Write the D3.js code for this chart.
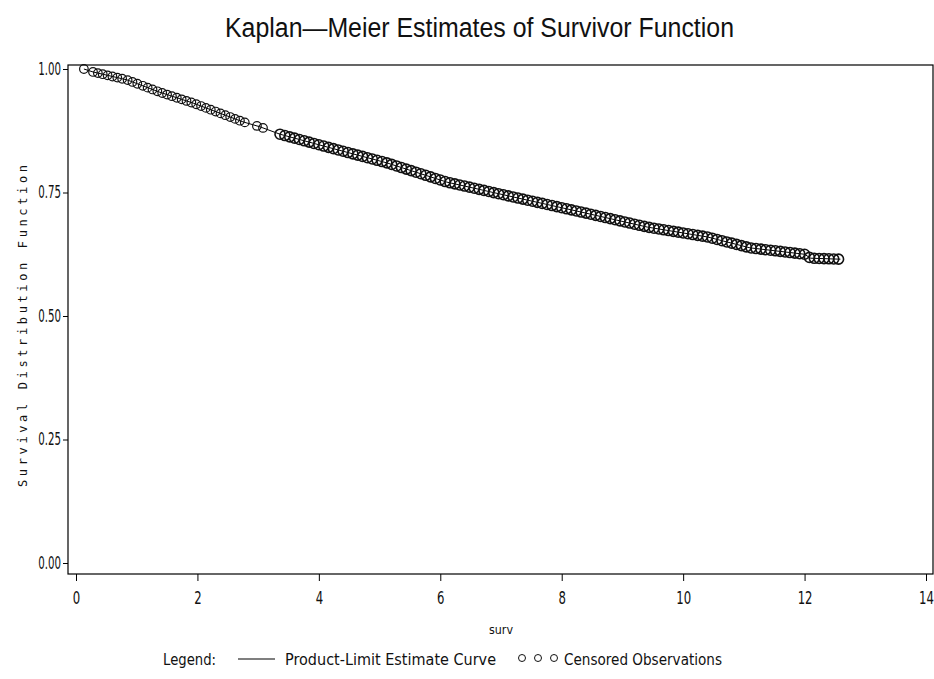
<!DOCTYPE html>
<html>
<head>
<meta charset="utf-8">
<script src="https://cdn.jsdelivr.net/npm/d3@7"></script>
<style>
    body { margin: 0; background: #fff; }
    svg text { fill: #111; }
    .sq { transform-box: fill-box; transform-origin: center; transform: scaleX(0.65); }
</style>
</head>
<body>
<svg id="chart" width="934" height="679"></svg>
<script>
const chartTitle = "Kaplan\u2014Meier Estimates of Survivor Function";
const yTitle = "Survival Distribution Function";
const xTitle = "surv";

// product-limit estimate
const kmTime = [0.13, 0.28, 0.84, 1.38, 1.93, 2.75, 3.03, 3.36, 4.14, 5.12, 6.11, 7.20, 8.30, 8.91, 9.41, 10.4, 11.1, 12.0, 12.1, 12.59];
const kmSurv = [1.000, 0.994, 0.978, 0.953, 0.931, 0.893, 0.883, 0.868, 0.842, 0.810, 0.771, 0.741, 0.711, 0.694, 0.680, 0.660, 0.638, 0.625, 0.617, 0.615];

// censored times (circles)
const censorTime = [
    0.13, 0.28, 0.36, 0.44, 0.52, 0.60, 0.68, 0.76, 0.85, 0.93, 1.01, 1.10, 1.18, 1.26, 1.34, 1.42, 1.50,
    1.58, 1.66, 1.74, 1.82, 1.90, 1.98, 2.06, 2.14, 2.22, 2.30, 2.38, 2.46, 2.54, 2.62, 2.70, 2.78,
    2.98, 3.08,
    3.36, 3.44, 3.52, 3.60, 3.68, 3.76, 3.84, 3.92, 4.00, 4.08, 4.16, 4.24, 4.32, 4.40, 4.48, 4.56,
    4.64, 4.72, 4.80, 4.88, 4.96, 5.04, 5.12, 5.20, 5.28, 5.36, 5.44, 5.52, 5.60, 5.68, 5.76, 5.84,
    5.92, 6.00, 6.08, 6.16, 6.24, 6.32, 6.40, 6.48, 6.56, 6.64, 6.72, 6.80, 6.88, 6.96, 7.04, 7.12,
    7.20, 7.28, 7.36, 7.44, 7.52, 7.60, 7.68, 7.76, 7.84, 7.92, 8.00, 8.08, 8.16, 8.24, 8.32, 8.40,
    8.48, 8.56, 8.64, 8.72, 8.80, 8.88, 8.96, 9.04, 9.12, 9.20, 9.28, 9.36, 9.44, 9.52, 9.60, 9.68,
    9.76, 9.84, 9.92, 10.00, 10.08, 10.16, 10.24, 10.32, 10.40, 10.48, 10.56, 10.64, 10.72, 10.80,
    10.88, 10.96, 11.04, 11.12, 11.20, 11.28, 11.36, 11.44, 11.52, 11.60, 11.68, 11.76, 11.84, 11.92,
    12.00, 12.08, 12.16, 12.24, 12.32, 12.40, 12.48, 12.56
];

const xTicks = [0, 2, 4, 6, 8, 10, 12, 14];
const yTicks = [0.00, 0.25, 0.50, 0.75, 1.00];

const svg = d3.select('#chart');

const frameLeft = 68, frameRight = 933, frameTop = 65, frameBottom = 574;

const xScale = d3.scaleLinear().domain([0, 14]).range([76, 926]);
const yScale = d3.scaleLinear().domain([0, 1]).range([563, 69]);
// survival value at a censored time, on the drawn curve
const survAt = d3.scaleLinear().domain(kmTime).range(kmSurv).clamp(true);

// title
svg.append('text')
    .attr('x', 479.5)
    .attr('y', 37)
    .attr('text-anchor', 'middle')
    .attr('textLength', 509)
    .attr('lengthAdjust', 'spacingAndGlyphs')
    .style('font-family', '"Liberation Sans", Arial, sans-serif')
    .style('font-size', '27px')
    .text(chartTitle);

// frame
svg.append('rect')
    .attr('x', frameLeft)
    .attr('y', frameTop)
    .attr('width', frameRight - frameLeft)
    .attr('height', frameBottom - frameTop)
    .attr('fill', 'none')
    .attr('stroke', '#000')
    .attr('stroke-width', 1.2);

// x axis
const gx = svg.append('g')
    .attr('transform', `translate(0, ${frameBottom})`)
    .call(d3.axisBottom(xScale).tickValues(xTicks).tickFormat(d3.format('d')).tickSize(7).tickPadding(10).tickSizeOuter(0));
gx.select('.domain').remove();
gx.selectAll('line').attr('stroke', '#000');
gx.selectAll('text')
    .attr('class', 'sq')
    .style('font-family', '"DejaVu Sans", sans-serif')
    .style('font-size', '18px');

// y axis
const gy = svg.append('g')
    .attr('transform', `translate(${frameLeft}, 0)`)
    .call(d3.axisLeft(yScale).tickValues(yTicks).tickFormat(d3.format('.2f')).tickSize(5).tickPadding(2).tickSizeOuter(0));
gy.select('.domain').remove();
gy.selectAll('line').attr('stroke', '#000');
gy.selectAll('text')
    .style('font-family', '"DejaVu Sans", sans-serif')
    .style('font-size', '17px')
    .attr('textLength', d => d3.format('.2f')(d).length * 6.2 - 2)
    .attr('lengthAdjust', 'spacingAndGlyphs');

// y title
svg.append('text')
    .attr('transform', 'translate(27, 326) rotate(-90)')
    .attr('text-anchor', 'middle')
    .attr('textLength', 322)
    .attr('lengthAdjust', 'spacing')
    .style('font-family', '"DejaVu Sans Mono", monospace')
    .style('font-size', '12px')
    .text(yTitle);

// x title
svg.append('text')
    .attr('x', 501)
    .attr('y', 634)
    .attr('text-anchor', 'middle')
    .attr('textLength', 24)
    .attr('lengthAdjust', 'spacingAndGlyphs')
    .style('font-family', '"DejaVu Sans", sans-serif')
    .style('font-size', '13px')
    .text(xTitle);

// curve
const line = d3.line()
    .x((d, i) => xScale(kmTime[i]))
    .y(d => yScale(d));

svg.append('path')
    .datum(kmSurv)
    .attr('d', line)
    .attr('fill', 'none')
    .attr('stroke', '#000')
    .attr('stroke-width', 1);

// censored observations
svg.append('g')
    .selectAll('circle')
    .data(censorTime)
    .enter()
        .append('circle')
            .attr('cx', d => xScale(d))
            .attr('cy', d => yScale(survAt(d)))
            .attr('r', d => d < 3.2 ? 4.3 : 5)
            .attr('fill', 'none')
            .attr('stroke', '#111')
            .attr('stroke-width', d => d < 3.2 ? 1.2 : 1.6);

// legend
const legendY = 665;
const legendFont = '"DejaVu Sans", sans-serif';
function legendText(x, len, str) {
    svg.append('text')
        .attr('x', x)
        .attr('y', legendY)
        .attr('textLength', len)
        .attr('lengthAdjust', 'spacingAndGlyphs')
        .style('font-family', legendFont)
        .style('font-size', '16px')
        .text(str);
}
legendText(163, 53, 'Legend:');
svg.append('line')
    .attr('x1', 238).attr('x2', 275)
    .attr('y1', legendY - 6).attr('y2', legendY - 6)
    .attr('stroke', '#000')
    .attr('stroke-width', 1.2);
legendText(285, 211, 'Product-Limit Estimate Curve');
svg.append('g')
    .selectAll('circle')
    .data([0, 1, 2])
    .enter()
        .append('circle')
            .attr('cx', d => 522 + d * 16)
            .attr('cy', legendY - 7)
            .attr('r', 3.5)
            .attr('fill', 'none')
            .attr('stroke', '#111');
legendText(564, 158, 'Censored Observations');
</script>
</body>
</html>
